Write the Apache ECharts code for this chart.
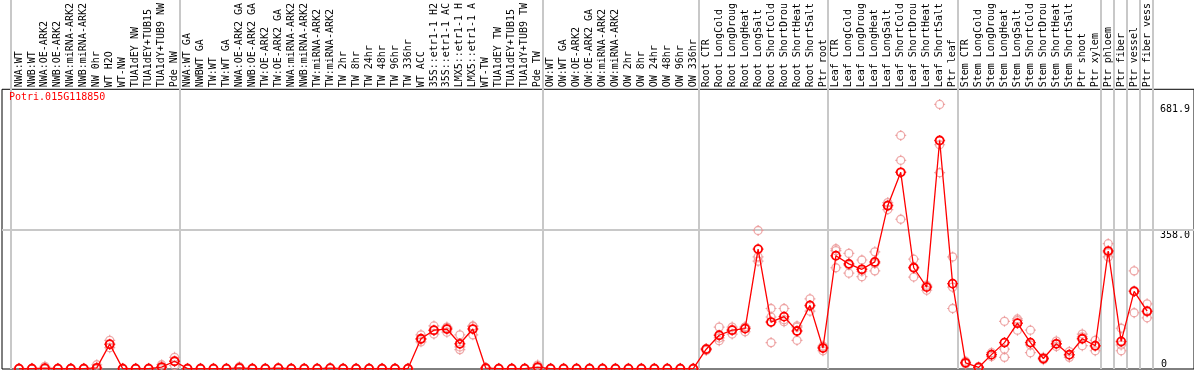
<!DOCTYPE html>
<html><head><meta charset="utf-8">
<script src="https://cdn.jsdelivr.net/npm/echarts@6/dist/echarts.min.js"></script>
<style>html,body{margin:0;padding:0;background:#fff;overflow:hidden}#c{width:1194px;height:370px}</style>
</head><body><div id="c"></div>
<script>
const geneName = 'Potri.015G118850';
const categories = [
 'NWA:WT','NWB:WT','NWA:OE-ARK2','NWB:OE-ARK2','NWA:miRNA-ARK2','NWB:miRNA-ARK2','NW 0hr','WT H2O','WT-NW','TUA1dEY NW','TUA1dEY+TUB15','TUA1dY+TUB9 NW','Pde NW',
 'NWA:WT GA','NWBWT GA','TW:WT','TW:WT GA','NWA:OE-ARK2 GA','NWB:OE-ARK2 GA','TW:OE-ARK2','TW:OE-ARK2 GA','NWA:miRNA-ARK2','NWB:miRNA-ARK2','TW:miRNA-ARK2','TW:miRNA-ARK2','TW 2hr','TW 8hr','TW 24hr','TW 48hr','TW 96hr','TW 336hr','WT ACC','35S::etr1-1 H2','35S::etr1-1 AC','LMX5::etr1-1 H','LMX5::etr1-1 A','WT-TW','TUA1dEY TW','TUA1dEY+TUB15','TUA1dY+TUB9 TW','Pde TW',
 'OW:WT','OW:WT GA','OW:OE-ARK2','OW:OE-ARK2 GA','OW:miRNA-ARK2','OW:miRNA-ARK2','OW 2hr','OW 8hr','OW 24hr','OW 48hr','OW 96hr','OW 336hr',
 'Root CTR','Root LongCold','Root LongDroug','Root LongHeat','Root LongSalt','Root ShortCold','Root ShortDrou','Root ShortHeat','Root ShortSalt','Ptr root',
 'Leaf CTR','Leaf LongCold','Leaf LongDroug','Leaf LongHeat','Leaf LongSalt','Leaf ShortCold','Leaf ShortDrou','Leaf ShortHeat','Leaf ShortSalt','Ptr leaf',
 'Stem CTR','Stem LongCold','Stem LongDroug','Stem LongHeat','Stem LongSalt','Stem ShortCold','Stem ShortDrou','Stem ShortHeat','Stem ShortSalt','Ptr shoot',
 'Ptr xylem','Ptr phloem','Ptr fiber','Ptr vessel','Ptr fiber vess'
];
// group sizes (a grey separator closes each group)
const groupSizes = [13, 28, 12, 10, 10, 11, 1, 1, 1, 1];
const meanValues = [
 1,1,2,1,1,1,3,64,1,1,1,5,20,
 1,1,1,1,3,1,1,2,1,1,1,2,1,1,1,1,1,1,78,100,103,65,103,2,1,1,1,5,
 1,1,1,1,1,1,1,1,1,1,1,1,
 51,87,100,104,309,121,135,98,164,54,
 292,271,257,276,421,507,261,211,589,220,
 16,4,37,68,118,68,27,65,37,78,
 60,304,71,200,149
];
const rep1 = [
 2,2,7,2,2,2,11,74,2,2,2,11,30,
 2,2,2,2,6,2,2,3,2,2,2,3,2,2,2,2,2,2,88,111,108,88,111,4,2,2,2,10,
 2,2,2,2,2,2,2,2,2,2,2,2,
 53,108,108,108,357,156,156,111,181,56,
 310,298,281,302,429,602,283,213,681.9,289,
 20,6,42,123,129,100,30,72,45,83,
 74,323,105,253,168
];
const rep2 = [
 0,0,0,0,0,0,0,55,0,0,0,1,9,
 0,0,0,0,1,0,0,1,0,0,0,1,0,0,0,0,0,0,70,90,95,50,88,0,0,0,0,2,
 0,0,0,0,0,0,0,0,0,0,0,0,
 48,73,90,96,278,68,122,74,149,47,
 261,247,238,253,411,386,237,203,506,156,
 13,2,32,30,100,42,24,58,30,60,
 47,289,47,145,132
];
const rep3 = [
 1,1,1,1,1,1,1,63,1,1,1,3,20,
 1,1,1,1,2,1,1,2,1,1,1,2,1,1,1,1,1,1,76,99,106,57,110,2,1,1,1,3,
 1,1,1,1,1,1,1,1,1,1,1,1,
 52,80,102,108,289,134,127,108,162,59,
 305,268,252,272,423,538,263,216,578,211,
 15,4,37,51,125,62,27,65,36,90,
 59,300,62,202,147
];
const yTickValues = [0, 358.0, 681.9];

const FONT = 'DejaVu Sans Mono';
const YMAX = 721;
const RED = '#ff0000', PINK = '#eb9696', GREY = '#c8c8c8';
const chart = echarts.init(document.getElementById('c'), null, {renderer: 'canvas'});
const idx = categories.map((_, i) => i);
const meanData = meanValues.map((v, i) => [i, v]);
const repData = [];
[rep1, rep2, rep3].forEach(r => r.forEach((v, i) => repData.push([i, v])));
const ticks = 'path://M6,0L6,2.2M6,9.8L6,12M0,6L2.2,6M9.8,6L12,6';
const fmtY = v => v === 0 ? '0' : v.toFixed(1);
const hiddenAxisParts = {axisLine: {show: false}, axisTick: {show: false}, splitLine: {show: false}};
const ring = (color, w) => ({color: 'rgba(0,0,0,0)', borderColor: color, borderWidth: w});

chart.setOption({
  animation: false,
  title: {text: geneName, left: 9, top: 92, padding: 0,
    textStyle: {color: RED, fontFamily: FONT, fontSize: 10, fontWeight: 'normal'}},
  // plot frame runs past the right edge of the picture (no visible right border)
  grid: {left: 2, right: -3, top: 85, bottom: 1, show: true, borderColor: '#000', borderWidth: 1},
  xAxis: Object.assign({type: 'value', position: 'top', min: -17/13, max: 1178/13,
    axisLabel: {customValues: idx, rotate: 90, margin: 2, fontFamily: FONT, fontSize: 10, color: '#000',
      formatter: v => categories[Math.round(v)] || ''}}, hiddenAxisParts),
  yAxis: [
    Object.assign({type: 'value', position: 'right', min: 0, max: YMAX,
      axisLabel: {customValues: yTickValues.filter(v => v > 0), inside: true, align: 'left', verticalAlign: 'top',
        margin: 34, fontFamily: FONT, fontSize: 10, color: '#000', formatter: fmtY}}, hiddenAxisParts),
    Object.assign({type: 'value', position: 'right', min: 0, max: YMAX,
      axisLabel: {customValues: yTickValues.filter(v => v === 0), inside: true, align: 'left', verticalAlign: 'bottom',
        margin: 33, fontFamily: FONT, fontSize: 10, color: '#000', formatter: fmtY}}, hiddenAxisParts)
  ],
  series: [
    {type: 'scatter', data: repData, symbol: 'circle', symbolSize: 8, silent: true, z: 3, itemStyle: ring(PINK, 1.3)},
    {type: 'scatter', data: repData, symbol: ticks, symbolSize: 11, silent: true, z: 3, itemStyle: ring(PINK, 1.2)},
    {type: 'line', data: meanData, symbol: 'circle', symbolSize: 8, showAllSymbol: true, silent: true, z: 4,
      lineStyle: {color: RED, width: 1.3}, itemStyle: ring(RED, 1.8),
      markLine: {silent: true, symbol: 'none', label: {show: false}, z: 1,
        lineStyle: {color: GREY, type: 'solid', width: 2},
        data: [{yAxis: yTickValues[1]}]}},
    {type: 'scatter', data: meanData, symbol: ticks, symbolSize: 11, silent: true, z: 5, itemStyle: ring(RED, 1.4)}
  ]
});

// grey group separators spanning the full height (label area included)
const seps = [-0.64];
let acc = 0;
groupSizes.forEach(n => { acc += n; seps.push(acc - 1 + 0.42); });
const gfx = seps.map(p => {
  const x = Math.round(chart.convertToPixel({xAxisIndex: 0}, p));
  return {type: 'line', z: 0, silent: true, shape: {x1: x, y1: 0, x2: x, y2: 369},
    style: {stroke: GREY, lineWidth: 2}};
});
chart.setOption({graphic: gfx});
</script>
</body></html>
